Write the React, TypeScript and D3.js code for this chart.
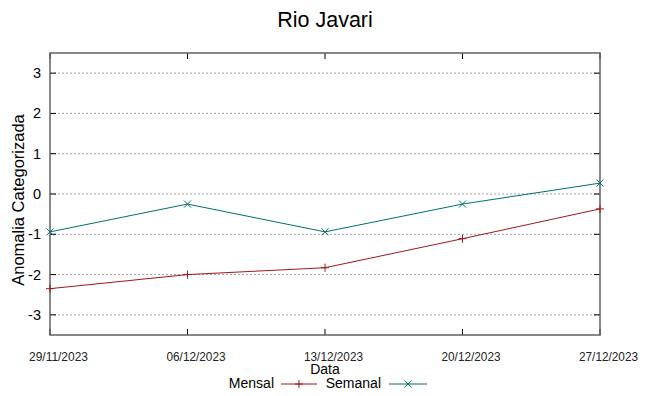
import React from "react";
import * as d3 from "d3";

const dates = ["29/11/2023", "06/12/2023", "13/12/2023", "20/12/2023", "27/12/2023"];
const mensal = [-2.35, -2.0, -1.83, -1.11, -0.37];
const semanal = [-0.94, -0.25, -0.94, -0.25, 0.27];
const yTicks = [-3, -2, -1, 0, 1, 2, 3];

const W = 649;
const H = 396;
const margin = { top: 53, right: 49, bottom: 61, left: 50 };
const red = "#a01818";
const teal = "#007070";
const font = "'Liberation Sans', Arial, sans-serif";

export default function App() {
  const x = d3
    .scalePoint<string>()
    .domain(dates)
    .range([margin.left, W - margin.right]);
  const y = d3
    .scaleLinear()
    .domain([-3.5, 3.5])
    .range([H - margin.bottom, margin.top]);

  const line = d3
    .line<number>()
    .x((_, i) => x(dates[i]) as number)
    .y((d) => y(d));

  const left = margin.left;
  const right = W - margin.right;
  const top = margin.top;
  const bottom = H - margin.bottom;

  const plus = (cx: number, cy: number, c: string, k: string) => (
    <path key={k} d={`M${cx - 4},${cy}H${cx + 4}M${cx},${cy - 4}V${cy + 4}`} stroke={c} strokeWidth={1} />
  );
  const cross = (cx: number, cy: number, c: string, k: string) => (
    <path
      key={k}
      d={`M${cx - 3.5},${cy - 3.5}L${cx + 3.5},${cy + 3.5}M${cx - 3.5},${cy + 3.5}L${cx + 3.5},${cy - 3.5}`}
      stroke={c}
      strokeWidth={1}
    />
  );

  return (
    <svg width={W} height={H} style={{ position: "absolute", left: 0, top: 0, background: "#fff" }}>
      <text x={325} y={27} textAnchor="middle" fontFamily={font} fontSize={21.5} fill="#000">
        Rio Javari
      </text>

      {/* grid */}
      {yTicks.map((t) => (
        <g key={t}>
          <line x1={left} x2={right} y1={y(t)} y2={y(t)} stroke="#a0a0a0" strokeDasharray="2,2" />
          <line x1={left} x2={left + 6} y1={y(t)} y2={y(t)} stroke="#000" />
          <line x1={right - 6} x2={right} y1={y(t)} y2={y(t)} stroke="#000" />
          <text x={41} y={y(t) + 5} textAnchor="end" fontFamily={font} fontSize={14.5} fill="#000">
            {t}
          </text>
        </g>
      ))}

      {dates.map((d) => (
        <g key={d}>
          <line x1={x(d)} x2={x(d)} y1={bottom} y2={bottom - 6} stroke="#000" />
          <line x1={x(d)} x2={x(d)} y1={top} y2={top + 6} stroke="#000" />
          <text
            x={(x(d) as number) - 21}
            y={361}
            fontFamily={font}
            fontSize={13.5}
            textLength={59}
            lengthAdjust="spacingAndGlyphs"
            fill="#222"
          >
            {d}
          </text>
        </g>
      ))}

      <rect x={left} y={top} width={right - left} height={bottom - top} fill="none" stroke="#606060" strokeWidth={1.5} />

      <path d={line(mensal) ?? ""} fill="none" stroke={red} strokeWidth={1} />
      <path d={line(semanal) ?? ""} fill="none" stroke={teal} strokeWidth={1} />
      {mensal.map((v, i) => plus(x(dates[i]) as number, y(v), red, "m" + i))}
      {semanal.map((v, i) => cross(x(dates[i]) as number, y(v), teal, "s" + i))}

      <text
        transform={`translate(24,${(top + bottom) / 2 + 6}) rotate(-90)`}
        textAnchor="middle"
        fontFamily={font}
        fontSize={16.5}
        fill="#000"
      >
        Anomalia Categorizada
      </text>
      <text x={325} y={374} textAnchor="middle" fontFamily={font} fontSize={14} fill="#000">
        Data
      </text>

      {/* legend */}
      <text x={274} y={388} textAnchor="end" fontFamily={font} fontSize={14} fill="#000">
        Mensal
      </text>
      <line x1={281} x2={317} y1={384} y2={384} stroke={red} />
      {plus(299, 384, red, "lm")}
      <text x={381} y={388} textAnchor="end" fontFamily={font} fontSize={14} fill="#000">
        Semanal
      </text>
      <line x1={389} x2={427} y1={384} y2={384} stroke={teal} />
      {cross(408, 384, teal, "ls")}
    </svg>
  );
}
